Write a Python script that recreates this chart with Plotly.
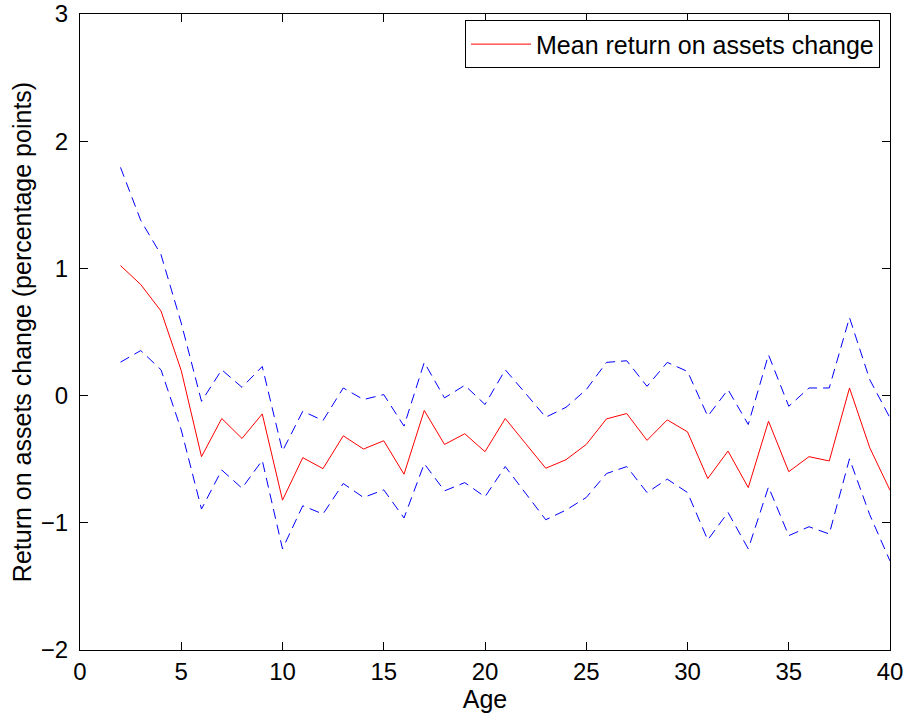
import plotly.graph_objects as go

# Firm age (years)
age = list(range(2, 41))

# Mean change in return on assets (percentage points) by age
mean_change = [1.022, 0.873, 0.665, 0.196, -0.480, -0.180, -0.337, -0.144, -0.822,
               -0.488, -0.574, -0.316, -0.420, -0.355, -0.618, -0.117, -0.384, -0.300,
               -0.441, -0.180, -0.376, -0.571, -0.504, -0.384, -0.183, -0.141, -0.352,
               -0.191, -0.285, -0.652, -0.436, -0.723, -0.201, -0.598, -0.480, -0.514,
               0.060, -0.410, -0.744]

# Upper confidence band
upper_band = [1.794, 1.377, 1.108, 0.570, -0.045, 0.203, 0.065, 0.229, -0.436,
              -0.123, -0.196, 0.060, -0.031, 0.008, -0.240, 0.261, -0.018, 0.081,
              -0.070, 0.203, 0.018, -0.170, -0.092, 0.047, 0.261, 0.274, 0.073,
              0.261, 0.190, -0.162, 0.047, -0.227, 0.321, -0.084, 0.060, 0.060,
              0.613, 0.125, -0.175]

# Lower confidence band
lower_band = [0.263, 0.354, 0.203, -0.270, -0.892, -0.585, -0.728, -0.509, -1.205,
              -0.866, -0.931, -0.691, -0.801, -0.741, -0.962, -0.535, -0.749, -0.684,
              -0.796, -0.558, -0.767, -0.976, -0.900, -0.801, -0.613, -0.558, -0.762,
              -0.657, -0.762, -1.135, -0.918, -1.205, -0.718, -1.101, -1.031, -1.088,
              -0.497, -0.937, -1.300]

x_ticks = [0, 5, 10, 15, 20, 25, 30, 35, 40]
y_ticks = [-2, -1, 0, 1, 2, 3]

FONT = "Liberation Sans, Arial, Helvetica, sans-serif"
FS = 25        # titles and legend
FS_TICK = 24   # tick labels

fig = go.Figure()

fig.add_trace(go.Scatter(
    x=age, y=mean_change, mode="lines",
    name="Mean return on assets change",
    line=dict(color="#ff0000", width=1),
))
fig.add_trace(go.Scatter(
    x=age, y=upper_band, mode="lines", showlegend=False,
    line=dict(color="#0000ff", width=1, dash="10px,6px"),
))
fig.add_trace(go.Scatter(
    x=age, y=lower_band, mode="lines", showlegend=False,
    line=dict(color="#0000ff", width=1, dash="10px,6px"),
))

axis_common = dict(
    showline=True, linecolor="black", linewidth=1, mirror="ticks",
    ticks="inside", ticklen=8, tickcolor="black", tickwidth=1,
    showgrid=False, zeroline=False, automargin=False,
    ticklabeloverflow="allow",
    tickfont=dict(family=FONT, size=FS_TICK, color="black"),
)

fig.update_layout(
    width=908, height=717,
    margin=dict(l=80, r=18, t=14, b=67),
    paper_bgcolor="white", plot_bgcolor="white",
    font=dict(family=FONT, size=FS, color="black"),
    xaxis=dict(
        range=[0, 40], tickvals=x_ticks, ticktext=[str(v) for v in x_ticks],
        title=dict(text="Age", font=dict(family=FONT, size=FS), standoff=0),
        **axis_common,
    ),
    yaxis=dict(
        range=[-2, 3], tickvals=y_ticks, ticktext=[str(v).replace("-", "\u2212") for v in y_ticks],
        title=dict(text="Return on assets change (percentage points)",
                   font=dict(family=FONT, size=FS), standoff=2),
        ticklabelstandoff=6,
        **axis_common,
    ),
    legend=dict(
        x=0.9877, y=0.99, xanchor="right", yanchor="top",
        bordercolor="black", borderwidth=1, bgcolor="white",
        font=dict(family=FONT, size=FS, color="black"),
        itemwidth=60, tracegroupgap=0,
    ),
)

fig.write_html("out.html")
